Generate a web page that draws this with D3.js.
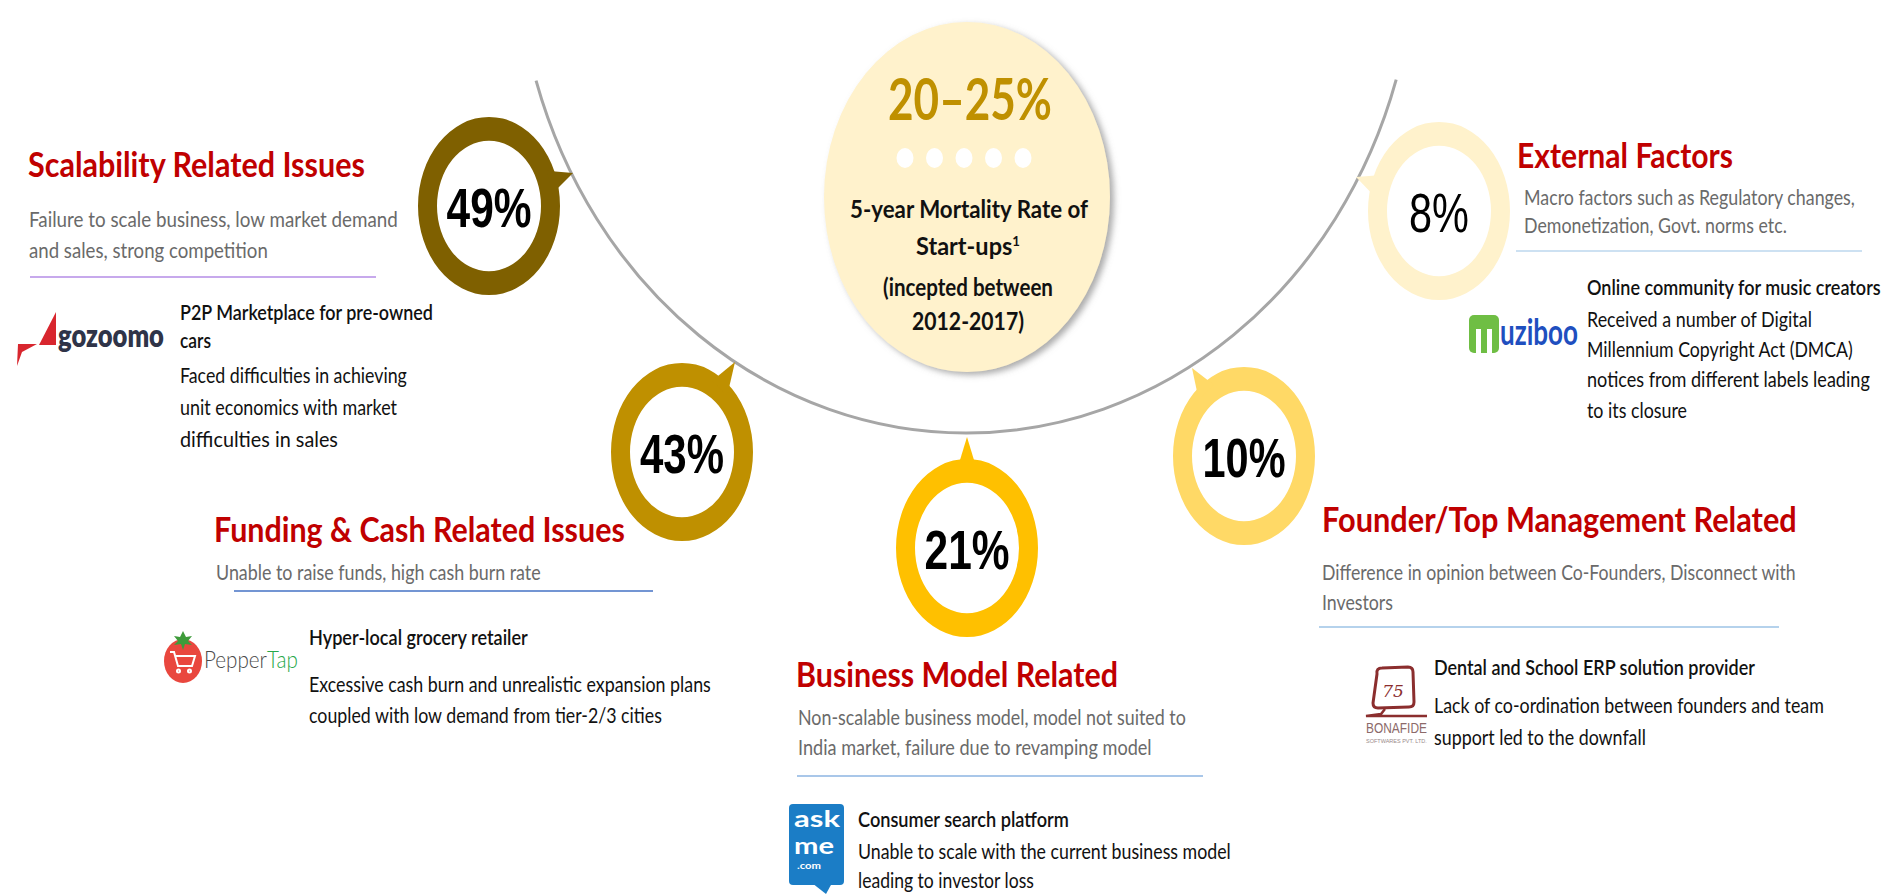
<!DOCTYPE html>
<html>
<head>
<meta charset="utf-8">
<script src="https://cdn.jsdelivr.net/npm/d3@7"></script>
<style>
  html, body { margin: 0; padding: 0; background: #ffffff; }
  svg { display: block; }
</style>
</head>
<body>
<script>
// ---------------- DATA ----------------
const categories = [
  "Scalability Related Issues",
  "Funding & Cash Related Issues",
  "Business Model Related",
  "Founder/Top Management Related",
  "External Factors"
];
const shares = [49, 43, 21, 10, 8];
const causeDescriptions = [
  ["Failure to scale business, low market demand", "and sales, strong competition"],
  ["Unable to raise funds, high cash burn rate"],
  ["Non-scalable business model, model not suited to", "India market, failure due to revamping model"],
  ["Difference in opinion between Co-Founders, Disconnect with", "Investors"],
  ["Macro factors such as Regulatory changes,", "Demonetization, Govt. norms etc."]
];
const exampleCompanies = ["gozoomo", "PepperTap", "askme", "Bonafide", "muziboo"];
const exampleTaglines = [
  ["P2P Marketplace for pre-owned", "cars"],
  ["Hyper-local grocery retailer"],
  ["Consumer search platform"],
  ["Dental and School ERP solution provider"],
  ["Online community for music creators"]
];
const exampleDetails = [
  ["Faced difficulties in achieving", "unit economics with market", "difficulties in sales"],
  ["Excessive cash burn and unrealistic expansion plans", "coupled with low demand from tier-2/3 cities"],
  ["Unable to scale with the current business model", "leading to investor loss"],
  ["Lack of co-ordination between founders and team", "support led to the downfall"],
  ["Received a number of Digital", "Millennium Copyright Act (DMCA)", "notices from different labels leading", "to its closure"]
];
const headlineRange = "20–25%";
const headlineLabel = ["5-year Mortality Rate of", "Start-ups", "(incepted between", "2012-2017)"];
const headlineFootnote = "1";

// ---------------- STYLE / LAYOUT ----------------
const ringColors = ["#7F6000", "#BF9000", "#FFC000", "#FFD966", "#FFF2CC"];
const color = d3.scaleOrdinal(categories, ringColors);
const shareFmt = d => d + "%";

const ringLayout = [
  { c: [489, 206], tip: [573, 173], w: 85, bold: true },
  { c: [682, 452], tip: [735, 362], w: 84, bold: true },
  { c: [967, 548], tip: [967, 437], w: 85, bold: true },
  { c: [1244, 456], tip: [1192, 368], w: 83, bold: true },
  { c: [1439, 211], tip: [1356, 177], w: 60, bold: false }
];
const ringStretch = 1.255;

const textLayout = [
  { title: [28, 177, 337],
    sub: [[29, 227, 369], [29, 258, 239]],
    rule: [30, 376, 277, "#B48CE6"],
    tag: [[180, 320, 253], [180, 348, 31]],
    det: [[180, 383, 227], [180, 415, 217], [180, 447, 158]] },
  { title: [214, 542, 411],
    sub: [[216, 580, 325]],
    rule: [234, 653, 591, "#4472C4"],
    tag: [[309, 645, 219]],
    det: [[309, 692, 402], [309, 723, 353]] },
  { title: [796, 687, 322],
    sub: [[798, 725, 388], [798, 755, 354]],
    rule: [797, 1203, 776, "#8DB4E2"],
    tag: [[858, 827, 211]],
    det: [[858, 859, 373], [858, 888, 176]] },
  { title: [1322, 532, 475],
    sub: [[1322, 580, 474], [1322, 610, 71]],
    rule: [1319, 1779, 627, "#9DC3E6"],
    tag: [[1434, 675, 321]],
    det: [[1434, 713, 390], [1434, 745, 212]] },
  { title: [1517, 168, 216],
    sub: [[1524, 205, 331], [1524, 233, 263]],
    rule: [1516, 1862, 251, "#BDD7EE"],
    tag: [[1587, 295, 294]],
    det: [[1587, 327, 225], [1587, 357, 266], [1587, 387, 283], [1587, 418, 100]] }
];

const bodyFont = "Lato, 'Open Sans', 'Noto Sans', sans-serif";
const numFont = "'Liberation Sans', Arial, sans-serif";

// ---------------- SVG ----------------
const W = 1890, H = 894;
const svg = d3.select("body").append("svg").attr("width", W).attr("height", H);
svg.append("rect").attr("width", W).attr("height", H).attr("fill", "#ffffff");

const defs = svg.append("defs");
defs.append("filter").attr("id", "shadow")
  .attr("x", "-20%").attr("y", "-20%").attr("width", "140%").attr("height", "140%")
  .append("feDropShadow").attr("dx", 4).attr("dy", 3).attr("stdDeviation", 3)
  .attr("flood-color", "#7f7f7f").attr("flood-opacity", 0.65);

function addText(parent, s, x, y, o) {
  const t = parent.append("text").attr("x", 0).attr("y", 0)
    .attr("font-family", o.family || bodyFont)
    .attr("font-size", o.size)
    .attr("font-weight", o.weight || 400)
    .attr("fill", o.fill || "#111")
    .attr("text-anchor", o.anchor || "start");
  if (s !== null) t.text(s);
  return t;
}
// squeeze a text horizontally to the target width
function fit(t, x, y, width) {
  let sx = 1;
  if (width) {
    const w0 = t.node().getComputedTextLength();
    if (w0 > 0) sx = width / w0;
  }
  t.attr("transform", `translate(${x},${y}) scale(${sx},1)`);
  return t;
}
function put(parent, s, x, y, o) { return fit(addText(parent, s, x, y, o), x, y, o.width); }

// ---- big grey arc ----
const arcSpec = { cx: 966, cy: -67, rx: 450, ry: 500, left: [535, 81], right: [1397, 80] };
const k = arcSpec.ry / arcSpec.rx;
const angOf = p => Math.atan2((p[1] - arcSpec.cy) / k, p[0] - arcSpec.cx);
const bigArc = d3.path();
bigArc.arc(0, 0, arcSpec.rx, angOf(arcSpec.right), angOf(arcSpec.left), false);
svg.append("g").attr("transform", `translate(${arcSpec.cx},${arcSpec.cy}) scale(1,${k})`)
  .append("path").attr("d", bigArc.toString())
  .attr("fill", "none").attr("stroke", "#A6A6A6").attr("stroke-width", 3)
  .attr("vector-effect", "non-scaling-stroke");

// ---- central ellipse ----
const center = { cx: 967, cy: 197, rx: 143, ry: 175 };
svg.append("ellipse").attr("cx", center.cx).attr("cy", center.cy)
  .attr("rx", center.rx).attr("ry", center.ry)
  .attr("fill", "#FFF2CC").attr("filter", "url(#shadow)");

put(svg, headlineRange, 970, 120, { size: 58, weight: 700, fill: "#BF9000", anchor: "middle", width: 164 });

const dotX = d3.scalePoint().domain(d3.range(5)).range([905, 1023]);
svg.selectAll("ellipse.dot").data(d3.range(5)).join("ellipse").attr("class", "dot")
  .attr("cx", d => dotX(d)).attr("cy", 158).attr("rx", 8.5).attr("ry", 10).attr("fill", "#ffffff");

const headLines = [
  { x: 969, y: 218, w: 238 }, { x: 968, y: 255, w: 104 }, { x: 968, y: 296, w: 170 }, { x: 968, y: 330, w: 112 }
];
headlineLabel.forEach((s, i) => {
  const o = { size: 25, weight: 700, fill: "#111", anchor: "middle", width: headLines[i].w };
  if (i === 1) {
    const t = addText(svg, null, 0, 0, o);
    t.append("tspan").text(s);
    t.append("tspan").text(headlineFootnote).attr("font-size", 14).attr("dy", -9);
    fit(t, headLines[i].x, headLines[i].y, o.width);
  } else {
    put(svg, s, headLines[i].x, headLines[i].y, o);
  }
});

// ---- rings ----
const ringArc = d3.arc().innerRadius(52).outerRadius(71).startAngle(0).endAngle(2 * Math.PI);
shares.forEach((v, i) => {
  const L = ringLayout[i];
  const g = svg.append("g").attr("transform", `translate(${L.c[0]},${L.c[1]}) scale(1,${ringStretch})`);
  const col = color(categories[i]);
  g.append("path").attr("d", ringArc()).attr("fill", col);
  const tx = L.tip[0] - L.c[0], ty = (L.tip[1] - L.c[1]) / ringStretch;
  const a = Math.atan2(ty, tx), r = 64, da = 0.15;
  const pts = [[tx, ty], [r * Math.cos(a - da), r * Math.sin(a - da)], [r * Math.cos(a + da), r * Math.sin(a + da)]];
  g.append("polygon").attr("points", pts.map(p => p.join(",")).join(" ")).attr("fill", col);
  put(svg, shareFmt(v), L.c[0], L.c[1] + 21,
    { family: numFont, size: 56, weight: L.bold ? 700 : 400, fill: "#000", anchor: "middle", width: L.w });
});

// ---- text blocks ----
categories.forEach((cat, i) => {
  const L = textLayout[i];
  put(svg, cat, L.title[0], L.title[1], { size: 34, weight: 700, fill: "#C00000", width: L.title[2] });
  causeDescriptions[i].forEach((s, j) => {
    const p = L.sub[j];
    put(svg, s, p[0], p[1], { size: 20.5, weight: 400, fill: "#6A6A6A", width: p[2] });
  });
  svg.append("line").attr("x1", L.rule[0]).attr("x2", L.rule[1]).attr("y1", L.rule[2]).attr("y2", L.rule[2])
    .attr("stroke", L.rule[3]).attr("stroke-width", 1.6);
  exampleTaglines[i].forEach((s, j) => {
    const p = L.tag[j];
    put(svg, s, p[0], p[1], { size: 20.5, weight: 600, fill: "#111", width: p[2] });
  });
  exampleDetails[i].forEach((s, j) => {
    const p = L.det[j];
    put(svg, s, p[0], p[1], { size: 20.5, weight: 400, fill: "#111", width: p[2] });
  });
});

// ---- logos ----
// gozoomo
const gz = svg.append("g");
gz.append("polygon").attr("points", "18,344 37,344 22,352 17,366").attr("fill", "#D8262E");
gz.append("polygon").attr("points", "56,312 56,345 39,345").attr("fill", "#D8262E");
put(gz, exampleCompanies[0], 58, 347, { size: 32, weight: 800, fill: "#2F3448", width: 106 });

// PepperTap
const pt = svg.append("g");
pt.append("ellipse").attr("cx", 183).attr("cy", 661).attr("rx", 19).attr("ry", 22).attr("fill", "#E9473E");
pt.append("path").attr("d", "M183,631 l3,6 l6,-1 l-4,5 l4,4 l-7,-1 l-2,6 l-2,-6 l-7,1 l4,-4 l-4,-5 l6,1 z").attr("fill", "#3E9B3A");
pt.append("path").attr("d", "M170,652 l4,0 l4,14 l14,0 l3,-10 l-19,0 M178,671 m-1,0 a1.5,1.5 0 1,0 3,0 a1.5,1.5 0 1,0 -3,0 M189,671 m-1,0 a1.5,1.5 0 1,0 3,0 a1.5,1.5 0 1,0 -3,0")
  .attr("fill", "none").attr("stroke", "#ffffff").attr("stroke-width", 2);
const ptt = addText(pt, null, 0, 0, { size: 24, weight: 300 });
ptt.append("tspan").text(exampleCompanies[1].slice(0, 6)).attr("fill", "#4A4A4A");
ptt.append("tspan").text(exampleCompanies[1].slice(6)).attr("fill", "#27A84A");
fit(ptt, 204, 668, 92);

// askme
const am = svg.append("g");
am.append("rect").attr("x", 789).attr("y", 804).attr("width", 55).attr("height", 81).attr("rx", 4).attr("fill", "#1B7DC6");
am.append("polygon").attr("points", "812,883 832,883 826,894").attr("fill", "#1B7DC6");
put(am, exampleCompanies[2].slice(0, 3), 794, 827, { size: 23, weight: 700, fill: "#ffffff", width: 46 });
put(am, exampleCompanies[2].slice(3), 794, 854, { size: 23, weight: 700, fill: "#ffffff", width: 40 });
put(am, ".com", 797, 869, { size: 9, weight: 700, fill: "#ffffff", width: 24 });

// Bonafide
const bf = svg.append("g");
bf.append("path").attr("d", "M1377,674 Q1376,668 1382,668 L1408,667 Q1413,667 1413,672 L1414,702 Q1414,707 1409,707 L1378,708 Q1373,708 1373,703 Z")
  .attr("fill", "none").attr("stroke", "#8B2E2E").attr("stroke-width", 3);
bf.append("text").attr("x", 1393).attr("y", 697).text("75").attr("font-family", "'DejaVu Serif', serif")
  .attr("font-style", "italic").attr("font-size", 17).attr("fill", "#8B2E2E").attr("text-anchor", "middle");
bf.append("path").attr("d", "M1385,709 L1381,714 L1366,716 L1427,716").attr("fill", "none").attr("stroke", "#8B2E2E").attr("stroke-width", 2.5);
put(bf, "BONAFIDE", 1366, 733, { family: numFont, size: 15, weight: 400, fill: "#8C6A6A", width: 61 });
put(bf, "SOFTWARES PVT. LTD.", 1366, 743, { family: numFont, size: 6, weight: 400, fill: "#9A8A8A", width: 61 });

// muziboo
const mz = svg.append("g");
mz.append("rect").attr("x", 1469).attr("y", 315).attr("width", 30).attr("height", 38).attr("rx", 5).attr("fill", "#6FBE44");
mz.append("rect").attr("x", 1476).attr("y", 329).attr("width", 5).attr("height", 24).attr("fill", "#ffffff");
mz.append("rect").attr("x", 1487).attr("y", 329).attr("width", 5).attr("height", 24).attr("fill", "#ffffff");
put(mz, exampleCompanies[4].slice(1), 1500, 345, { size: 36, weight: 700, fill: "#1F4FBF", width: 78 });
</script>
</body>
</html>
